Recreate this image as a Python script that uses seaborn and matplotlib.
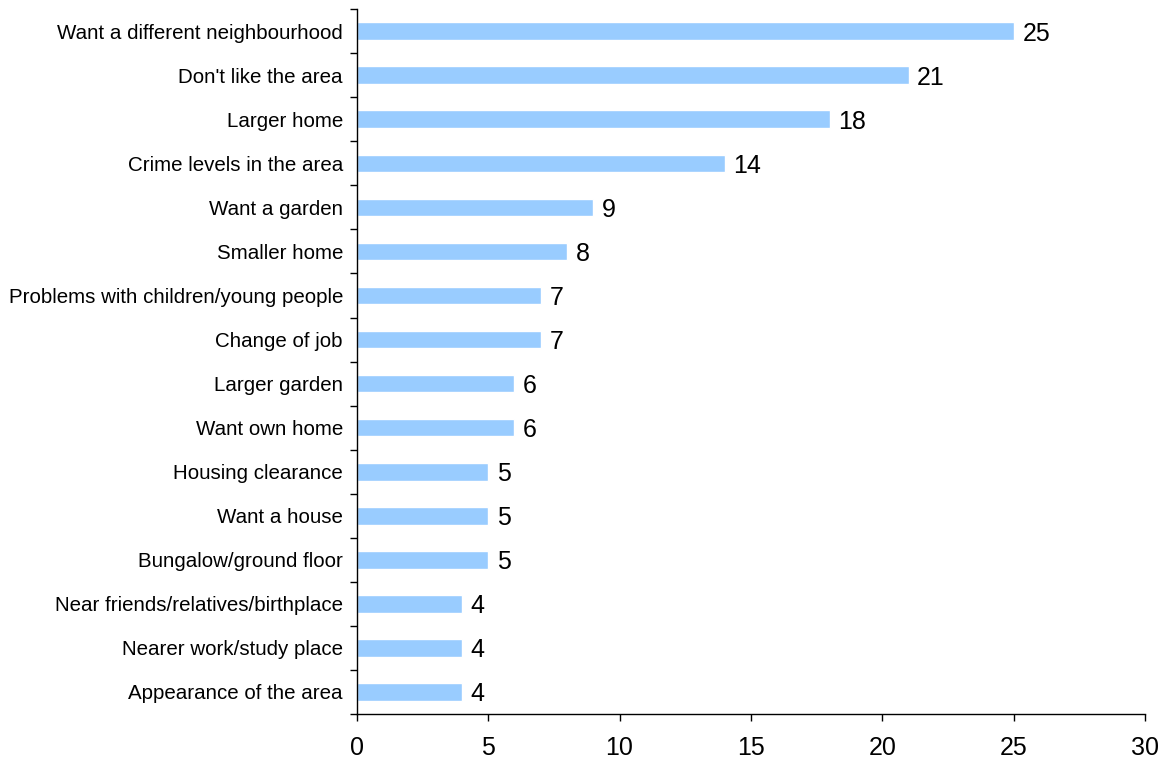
import matplotlib
matplotlib.use("Agg")
import matplotlib.pyplot as plt
import seaborn as sns
import numpy as np
import pandas as pd

categories = [
    "Want a different neighbourhood",
    "Don't like the area",
    "Larger home",
    "Crime levels in the area",
    "Want a garden",
    "Smaller home",
    "Problems with children/young people",
    "Change of job",
    "Larger garden",
    "Want own home",
    "Housing clearance",
    "Want a house",
    "Bungalow/ground floor",
    "Near friends/relatives/birthplace",
    "Nearer work/study place",
    "Appearance of the area",
]
values = [25, 21, 18, 14, 9, 8, 7, 7, 6, 6, 5, 5, 5, 4, 4, 4]
xticks = [0, 5, 10, 15, 20, 25, 30]

sns.set_theme(style="white")
plt.rcParams['font.family'] = ['Liberation Sans', 'DejaVu Sans']

df = pd.DataFrame({"cat": categories, "val": values})

fig = plt.figure(figsize=(11.7, 7.62), dpi=100)
ax = fig.add_axes([0.305, 0.063, 0.9786 - 0.305, 0.988 - 0.063])
sns.barplot(data=df, x="val", y="cat", orient="h", color="#99CCFF",
            saturation=1, width=0.4, ax=ax)

ax.set_xlim(0, 30)
ax.set_ylim(len(categories) - 0.5, -0.5)
ax.set_xticks(xticks)
ax.set_xticklabels([str(t) for t in xticks], fontsize=18)
ax.set_xlabel("")
ax.set_ylabel("")
for s in ["top", "right"]:
    ax.spines[s].set_visible(False)
for s in ["left", "bottom"]:
    ax.spines[s].set_color("black")
    ax.spines[s].set_linewidth(1)

ax.tick_params(axis="y", which="major", length=0, labelsize=14.8, pad=10, labelcolor="black")
ax.set_yticks(np.arange(-0.5, len(categories), 1.0), minor=True)
ax.tick_params(axis="y", which="minor", length=5, direction="out", color="black", width=1, left=True)
ax.tick_params(axis="x", which="major", length=5, direction="out", color="black", width=1,
               bottom=True, pad=11, labelcolor="black")

for i, v in enumerate(values):
    ax.text(v + 0.33, i, str(v), va="center_baseline", ha="left", fontsize=18, color="black")

fig.savefig("out.png", dpi=100)
